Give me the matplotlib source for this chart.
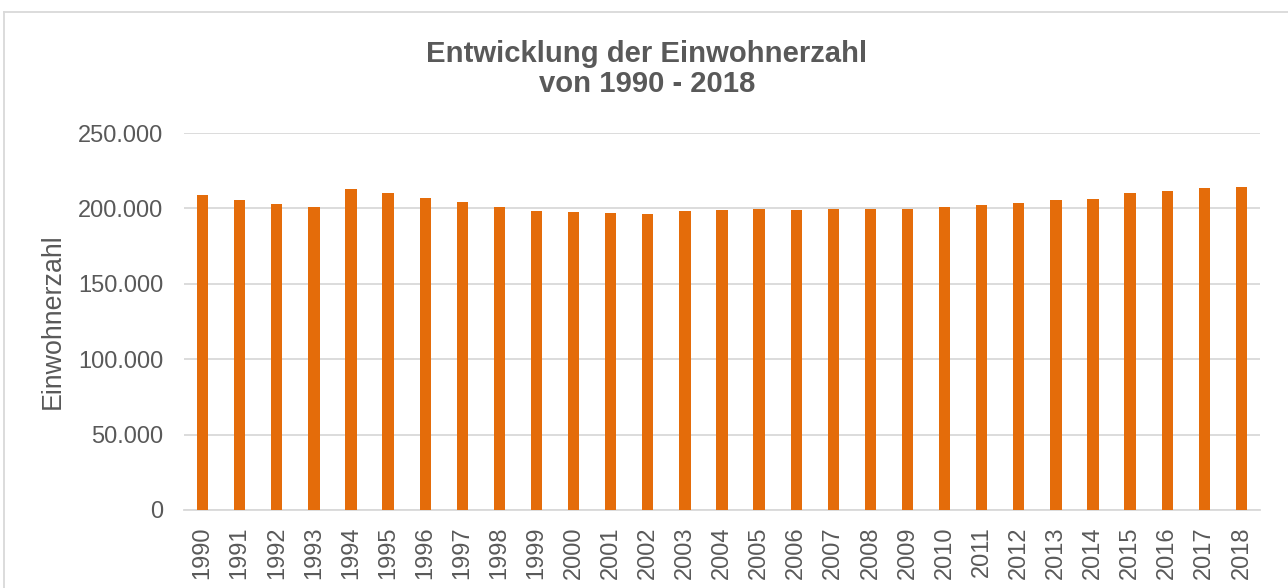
import matplotlib
matplotlib.use("Agg")
import matplotlib.pyplot as plt
from matplotlib.lines import Line2D
from matplotlib.ticker import FuncFormatter, MultipleLocator

plt.rcParams['font.family'] = ['Liberation Sans', 'DejaVu Sans']

years = [str(y) for y in range(1990, 2019)]
einwohner = [208900, 205800, 202900, 200900, 213100, 210400, 207100, 204300,
             201100, 198300, 197300, 196900, 196500, 198300, 199100, 199600,
             199100, 199600, 199600, 199800, 201100, 202400, 203800, 205600,
             206200, 210400, 211800, 213500, 214400]

title = "Entwicklung der Einwohnerzahl\nvon 1990 - 2018"
ylabel = "Einwohnerzahl"

text_color = "#595959"
bar_color = "#E46C0A"
grid_color = "#D9D9D9"

fig = plt.figure(figsize=(12.88, 5.88), dpi=100)
W, H = 1288, 588
ax_left, ax_right, ax_top, ax_bottom = 184, 1260, 133, 510
ax = fig.add_axes([ax_left / W, 1 - ax_bottom / H, (ax_right - ax_left) / W, (ax_bottom - ax_top) / H])

x = list(range(len(years)))
ax.bar(x, einwohner, width=0.305, color=bar_color, zorder=3)

ax.set_xlim(-0.5, len(years) - 0.5)
ax.set_ylim(0, 250000)
ax.yaxis.set_major_locator(MultipleLocator(50000))
ax.yaxis.set_major_formatter(FuncFormatter(lambda v, p: f"{int(v):,}".replace(",", ".")))
ax.set_xticks(x)
ax.set_xticklabels(years, rotation=90)

ax.grid(axis='y', color=grid_color, linewidth=1.3, zorder=0)
for s in ['top', 'right', 'left']:
    ax.spines[s].set_visible(False)
ax.spines['bottom'].set_color(grid_color)
ax.spines['bottom'].set_linewidth(1.3)
ax.tick_params(axis='both', length=0, colors=text_color, labelsize=17)
ax.tick_params(axis='y', pad=15)
ax.tick_params(axis='x', pad=12)

ax.set_ylabel(ylabel, fontsize=19.3, color=text_color)
ax.yaxis.label.set_va('center')
ax.yaxis.set_label_coords((53 - ax_left) / (ax_right - ax_left), 0.5)

fig.text(647 / W, 1 - 69 / H, title, ha='center', va='center', fontsize=21.1,
         fontweight='bold', color=text_color, linespacing=1.05)

# chart border (left and top edges visible)
fig.add_artist(Line2D([4 / W, 4 / W], [0, 1 - 12 / H], color=grid_color, linewidth=1.3,
                      transform=fig.transFigure))
fig.add_artist(Line2D([4 / W, 1], [1 - 12 / H, 1 - 12 / H], color=grid_color, linewidth=1.3,
                      transform=fig.transFigure))

fig.savefig("out.png", dpi=100, facecolor='white')
